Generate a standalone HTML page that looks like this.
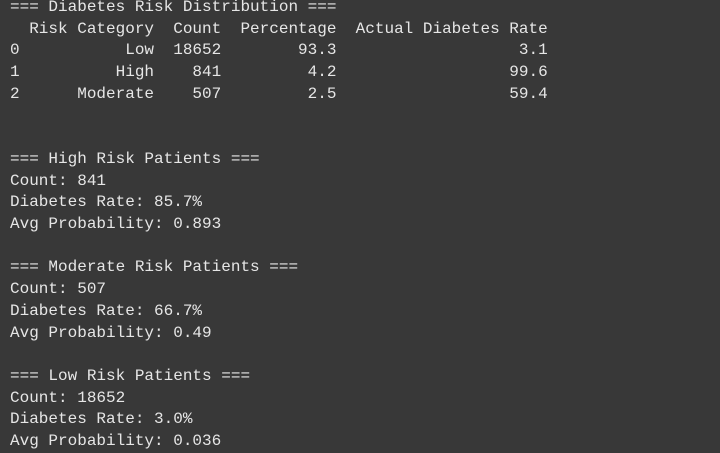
<!DOCTYPE html>
<html><head><meta charset="utf-8"><style>
html,body{margin:0;padding:0;width:720px;height:452px;overflow:hidden;background:#383838;}
pre{position:absolute;left:10px;top:-3px;margin:0;font-family:"Liberation Mono","DejaVu Sans Mono",monospace;font-size:16px;line-height:21.7px;color:#e6e6e6;white-space:pre;}
</style></head><body>
<pre>=== Diabetes Risk Distribution ===
  Risk Category  Count  Percentage  Actual Diabetes Rate
0           Low  18652        93.3                   3.1
1          High    841         4.2                  99.6
2      Moderate    507         2.5                  59.4


=== High Risk Patients ===
Count: 841
Diabetes Rate: 85.7%
Avg Probability: 0.893

=== Moderate Risk Patients ===
Count: 507
Diabetes Rate: 66.7%
Avg Probability: 0.49

=== Low Risk Patients ===
Count: 18652
Diabetes Rate: 3.0%
Avg Probability: 0.036</pre>
</body></html>
